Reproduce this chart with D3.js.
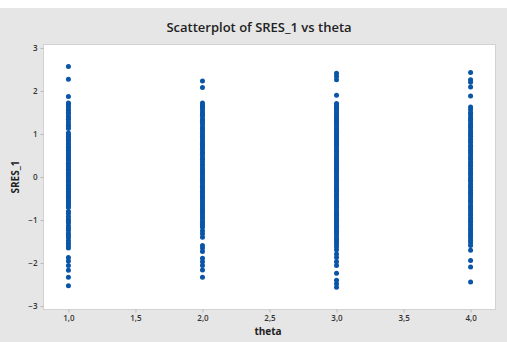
<!DOCTYPE html>
<html>
<head>
<meta charset="utf-8">
<script src="https://cdn.jsdelivr.net/npm/d3@7"></script>
<style>
  html, body { margin: 0; padding: 0; background: #ffffff; }
  svg { display: block; }
</style>
</head>
<body>
<svg id="chart" width="507" height="342"></svg>
<script>
// Standardized residuals grouped by theta level
const thetaLevels = [1, 2, 3, 4];

const sresTheta1 = [2.57, 2.27, 1.87, 1.72, 1.69, 1.64, 1.58, 1.55, 1.50, 1.47, 1.41, 1.37, 1.34, 1.28, 1.22, 1.18, 1.13,
  1.02, 0.98, 0.94, 0.91, 0.87, 0.84, 0.79, 0.77, 0.72, 0.69, 0.65, 0.62, 0.58, 0.54, 0.51, 0.47, 0.43, 0.40, 0.37,
  0.32, 0.29, 0.25, 0.21, 0.18, 0.15, 0.10, 0.07, 0.03, 0.00, -0.04, -0.09, -0.11, -0.16, -0.19, -0.23, -0.26, -0.30,
  -0.34, -0.37, -0.41, -0.45, -0.48, -0.51, -0.56, -0.59, -0.63, -0.66, -0.71, -0.80, -0.85, -0.92, -0.98, -1.03,
  -1.07, -1.14, -1.19, -1.24, -1.31, -1.36, -1.41, -1.48, -1.54, -1.60, -1.65, -1.87, -1.95, -2.06, -2.17, -2.33, -2.53];

const sresTheta2 = [2.23, 2.08, 1.72, 1.67, 1.63, 1.60, 1.54, 1.49, 1.46, 1.41, 1.35, 1.32, 1.27, 1.23, 1.17, 1.13,
  1.09, 1.04, 0.99, 0.94, 0.91, 0.86, 0.81, 0.76, 0.72, 0.68, 0.64, 0.58, 0.55, 0.50, 0.44, 0.41, 0.36, 0.30, 0.27,
  0.21, 0.16, 0.12, 0.08, 0.03, -0.02, -0.06, -0.10, -0.14, -0.20, -0.24, -0.28, -0.33, -0.38, -0.43, -0.47, -0.51,
  -0.56, -0.60, -0.65, -0.70, -0.75, -0.79, -0.83, -0.88, -0.93, -0.97, -1.03, -1.08, -1.12, -1.17, -1.25, -1.32,
  -1.40, -1.59, -1.65, -1.73, -1.89, -1.97, -2.06, -2.16, -2.33];

const sresTheta3 = [2.41, 2.34, 2.26, 1.90, 1.71, 1.66, 1.62, 1.58, 1.54, 1.49, 1.44, 1.39, 1.35, 1.31, 1.27, 1.22,
  1.17, 1.12, 1.08, 1.04, 0.99, 0.94, 0.90, 0.85, 0.81, 0.77, 0.73, 0.68, 0.63, 0.59, 0.54, 0.49, 0.45, 0.40, 0.36,
  0.32, 0.27, 0.22, 0.18, 0.14, 0.10, 0.05, 0.00, -0.04, -0.08, -0.13, -0.18, -0.23, -0.27, -0.31, -0.35, -0.40,
  -0.44, -0.49, -0.54, -0.59, -0.63, -0.67, -0.71, -0.76, -0.81, -0.85, -0.89, -0.94, -0.99, -1.03, -1.07, -1.12,
  -1.17, -1.22, -1.26, -1.30, -1.35, -1.41, -1.45, -1.50, -1.56, -1.62, -1.69, -1.79, -1.87, -1.97, -2.06, -2.24,
  -2.40, -2.48, -2.56];

const sresTheta4 = [2.43, 2.26, 2.20, 2.09, 1.88, 1.63, 1.57, 1.50, 1.45, 1.39, 1.34, 1.30, 1.24, 1.19, 1.15, 1.09,
  1.04, 0.99, 0.95, 0.89, 0.84, 0.80, 0.74, 0.70, 0.64, 0.59, 0.55, 0.49, 0.44, 0.40, 0.34, 0.29, 0.25, 0.19, 0.14,
  0.09, 0.05, -0.01, -0.06, -0.10, -0.16, -0.21, -0.25, -0.31, -0.36, -0.40, -0.46, -0.51, -0.56, -0.60, -0.66,
  -0.71, -0.75, -0.81, -0.86, -0.90, -0.96, -1.01, -1.05, -1.11, -1.16, -1.21, -1.25, -1.31, -1.36, -1.41, -1.47,
  -1.53, -1.59, -1.70, -1.94, -2.09, -2.44];

const sresByTheta = [sresTheta1, sresTheta2, sresTheta3, sresTheta4];

const xTickValues = [1.0, 1.5, 2.0, 2.5, 3.0, 3.5, 4.0];
const yTickValues = [-3, -2, -1, 0, 1, 2, 3];

const chartTitle = "Scatterplot of SRES_1 vs theta";
const xLabel = "theta";
const yLabel = "SRES_1";

// Layout
const W = 507, H = 342;
const plot = { left: 43.5, top: 44.5, right: 495.5, bottom: 309.5 };

const svg = d3.select("#chart");

// Grey graph region
svg.append("rect")
  .attr("x", 0).attr("y", 8).attr("width", W).attr("height", H - 8)
  .attr("fill", "#e6e6e6");

// White data region
svg.append("rect")
  .attr("x", plot.left).attr("y", plot.top)
  .attr("width", plot.right - plot.left).attr("height", plot.bottom - plot.top)
  .attr("fill", "#ffffff")
  .attr("stroke", "#d2d2d2").attr("stroke-width", 1);

const x = d3.scaleLinear().domain([0.814, 4.186]).range([plot.left, plot.right]);
const y = d3.scaleLinear().domain([-3.08, 3.08]).range([plot.bottom, plot.top]);

const fmtComma = v => d3.format(".1f")(v).replace(".", ",");

// Axes
const xAxis = d3.axisBottom(x).tickValues(xTickValues).tickSize(3).tickPadding(3).tickFormat(fmtComma);
const yAxis = d3.axisLeft(y).tickValues(yTickValues).tickSize(3).tickPadding(3).tickFormat(d3.format("d"));

const gx = svg.append("g").attr("transform", `translate(0,${plot.bottom})`).call(xAxis);
const gy = svg.append("g").attr("transform", `translate(${plot.left},0)`).call(yAxis);

[gx, gy].forEach(g => {
  g.select(".domain").remove();
  g.selectAll(".tick line").attr("stroke", "#b8b8b8");
  g.selectAll(".tick text")
    .attr("fill", "#333333")
    .style("font-family", "'Open Sans', 'Noto Sans', sans-serif")
    .style("font-size", "8px")
    .style("font-weight", "600");
});

// Points
const points = [];
sresByTheta.forEach((vals, i) => vals.forEach(v => points.push({ theta: thetaLevels[i], sres: v })));

svg.append("g")
  .selectAll("circle")
  .data(points)
  .join("circle")
  .attr("cx", d => x(d.theta))
  .attr("cy", d => y(d.sres))
  .attr("r", 2.5)
  .attr("fill", "#0a55a8");

// Title and axis labels
svg.append("text")
  .attr("x", 259).attr("y", 32)
  .attr("text-anchor", "middle")
  .style("font-family", "'Open Sans', 'Noto Sans', sans-serif")
  .style("font-size", "13px")
  .style("font-weight", "600")
  .attr("fill", "#222222")
  .text(chartTitle);

svg.append("text")
  .attr("x", 268).attr("y", 335)
  .attr("text-anchor", "middle")
  .style("font-family", "'Open Sans', 'Noto Sans', sans-serif")
  .style("font-size", "10px")
  .style("font-weight", "700")
  .attr("fill", "#222222")
  .text(xLabel);

svg.append("text")
  .attr("transform", `translate(19,${(plot.top + plot.bottom) / 2}) rotate(-90)`)
  .attr("text-anchor", "middle")
  .style("font-family", "'Open Sans', 'Noto Sans', sans-serif")
  .style("font-size", "10px")
  .style("font-weight", "700")
  .attr("fill", "#222222")
  .text(yLabel);
</script>
</body>
</html>
